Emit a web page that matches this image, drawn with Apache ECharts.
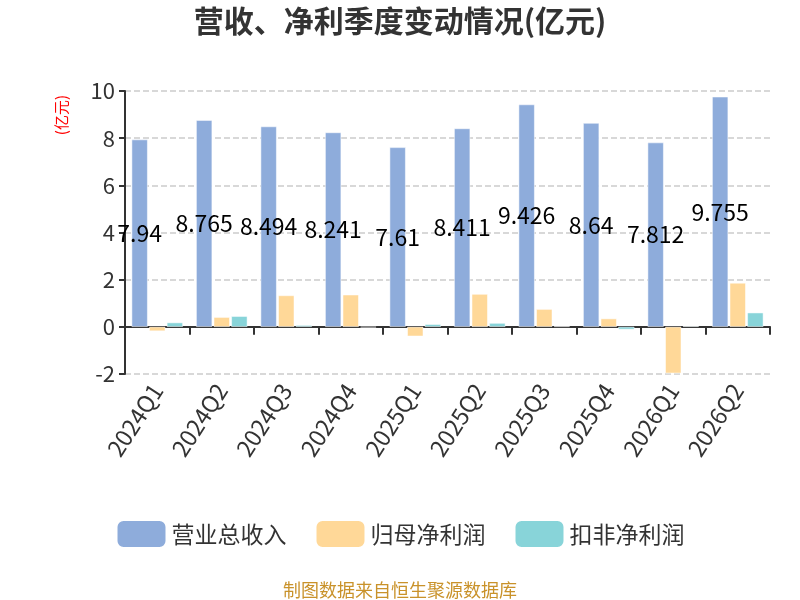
<!DOCTYPE html>
<html lang="zh">
<head>
    <meta charset="UTF-8">
    <title>营收、净利季度变动情况</title>
    <script src="https://cdn.jsdelivr.net/npm/echarts@6/dist/echarts.min.js"></script>
</head>
<body style="margin:0">
    <div id="main" style="width: 800px; height: 600px;"></div>
<script>
    var quarters = ['2024Q1', '2024Q2', '2024Q3', '2024Q4', '2025Q1', '2025Q2', '2025Q3', '2025Q4', '2026Q1', '2026Q2'];
    var revenue = [7.94, 8.765, 8.494, 8.241, 7.61, 8.411, 9.426, 8.64, 7.812, 9.755];
    var netProfit = [-0.18, 0.41, 1.33, 1.36, -0.40, 1.39, 0.75, 0.35, -1.97, 1.86];
    var deductedProfit = [0.18, 0.45, 0.07, -0.02, 0.11, 0.16, 0.02, -0.11, 0.03, 0.60];
    var yTicks = {min: -2, max: 10, interval: 2};

    var font = '"Noto Sans CJK SC", "Noto Sans", sans-serif';
    var myChart = echarts.init(document.getElementById('main'));
    var option = {
        textStyle: {fontFamily: font},
        title: {
            text: '营收、净利季度变动情况(亿元)',
            left: 'center',
            top: 1,
            textStyle: {fontSize: 30, fontWeight: 'bold', color: '#333', fontFamily: font}
        },
        legend: {
            bottom: 46,
            left: 'center',
            itemWidth: 50,
            itemHeight: 28,
            itemGap: 28,
            textStyle: {fontSize: 23, color: '#333'},
            data: ['营业总收入', '归母净利润', '扣非净利润']
        },
        grid: {left: 125, right: 30, top: 91, bottom: 226},
        xAxis: [{
            type: 'category',
            data: quarters,
            axisLine: {onZero: true, lineStyle: {color: '#333', width: 2}},
            axisTick: {show: true, length: 8, lineStyle: {color: '#333', width: 2}},
            axisLabel: {show: false}
        }, {
            type: 'category',
            data: quarters,
            position: 'bottom',
            axisLine: {show: false},
            axisTick: {show: false},
            axisLabel: {rotate: 57, fontSize: 23, color: '#333', margin: 12}
        }],
        yAxis: {
            type: 'value',
            min: yTicks.min,
            max: yTicks.max,
            interval: yTicks.interval,
            axisLine: {show: true, lineStyle: {color: '#333', width: 2}},
            axisTick: {show: true, length: 6, lineStyle: {color: '#333', width: 2}},
            axisLabel: {fontSize: 22, color: '#333', margin: 10},
            splitLine: {lineStyle: {type: 'dashed', color: '#ccc', width: 1.5}}
        },
        graphic: [{
            type: 'text',
            left: 54,
            top: 95,
            rotation: Math.PI / 2,
            style: {text: '(亿元)', fill: '#ff0000', fontSize: 15, fontFamily: font}
        }, {
            type: 'text',
            left: 'center',
            bottom: 1,
            style: {text: '制图数据来自恒生聚源数据库', fill: '#c9922a', fontSize: 18, fontFamily: font}
        }],
        series: [{
            name: '营业总收入',
            type: 'bar',
            barWidth: 16,
            barGap: '10%',
            data: revenue,
            itemStyle: {color: '#8eacdb', borderColor: '#fff', borderWidth: 0.5},
            label: {show: true, position: 'inside', color: '#000', fontSize: 23}
        }, {
            name: '归母净利润',
            type: 'bar',
            barWidth: 16,
            barGap: '10%',
            data: netProfit,
            itemStyle: {color: '#ffd898', borderColor: '#fff', borderWidth: 0.5}
        }, {
            name: '扣非净利润',
            type: 'bar',
            barWidth: 16,
            barGap: '10%',
            data: deductedProfit,
            itemStyle: {color: '#88d4d9', borderColor: '#fff', borderWidth: 0.5}
        }]
    };
    myChart.setOption(option);
</script>
</body>
</html>
